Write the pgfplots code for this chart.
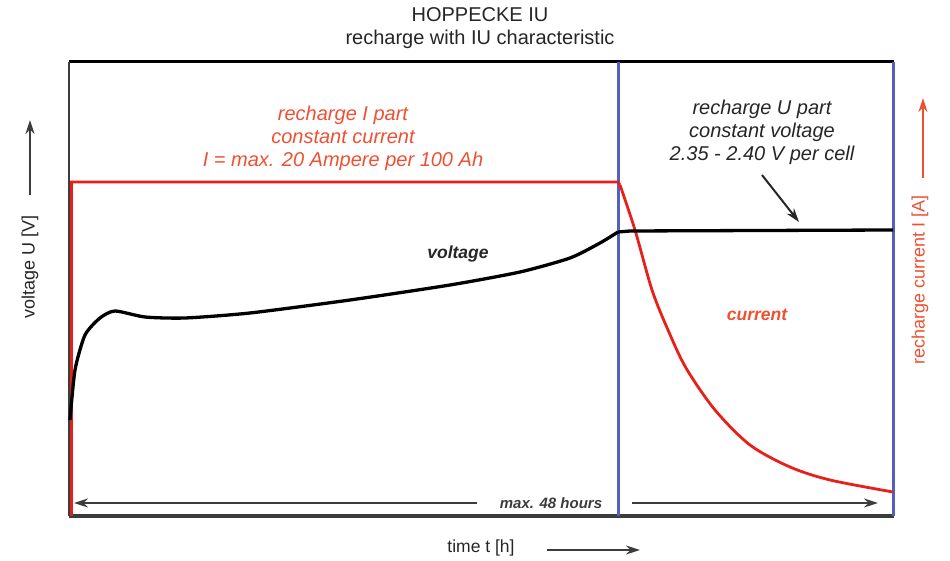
\documentclass[border=0pt]{standalone}
\usepackage{pgfplots}
\pgfplotsset{compat=1.18}
\usepackage{fontspec}
\setmainfont{Liberation Sans}
\usetikzlibrary{arrows.meta}
\definecolor{cred}{RGB}{232,32,26}
\definecolor{tred}{RGB}{238,80,50}
\definecolor{cblue}{RGB}{85,95,190}
\definecolor{cgrey}{RGB}{60,60,60}
\begin{document}
\begin{tikzpicture}
\useasboundingbox (-70pt,-45pt) rectangle (880pt,516pt);
\begin{axis}[at={(0pt,0pt)},anchor=south west,scale only axis,
  width=823pt,height=454pt,xmin=0,xmax=823,ymin=0,ymax=454,
  axis lines=none,ticks=none,clip=false]
% frame
\addplot[draw=black,line width=3pt] coordinates {(-1,454)(824,454)};
\addplot[draw=cgrey,line width=3.5pt] coordinates {(-1,0)(824,0)};
\addplot[draw=cgrey,line width=2pt] coordinates {(-1,0)(-1,454)};
\addplot[draw=cblue,line width=3pt] coordinates {(823,0)(823,454)};
\addplot[draw=cblue,line width=3pt] coordinates {(548,0)(548,454)};
% current
\addplot[draw=cred,line width=2.8pt] coordinates {(1.5,0)(1.5,334)(548,334)(550,331)};
\addplot[draw=cred,line width=2.8pt,smooth] coordinates {(550,331)(565,286)(582,226)(598,186)(616,148)(645,106)(680,71)(720,49)(760,36)(823,24)};
% voltage
\addplot[draw=black,line width=3.3pt,smooth,tension=0.4] coordinates {(0,96)(5,146)(15,181)(30,198)(45,205)(75,199)(115,198)(180,203)(280,216)(380,231)(450,244)(500,258)(530,273)(548,284)};
\addplot[draw=black,line width=3.3pt] coordinates {(548,284)(560,285)(823,286)};
% bottom arrows
\draw[-{Stealth[length=14pt,width=9pt]},line width=2pt,cgrey] (axis cs:407,13) -- (axis cs:4,13);
\draw[-{Stealth[length=14pt,width=9pt]},line width=2pt,cgrey] (axis cs:562,13) -- (axis cs:808,13);
\node[font=\fontsize{15}{18}\selectfont\bfseries\itshape,text=cgrey] at (axis cs:481,13) {max. 48 hours};
% annotations
\node[align=center,text=tred,font=\fontsize{20}{23}\selectfont\itshape] at (axis cs:273,378) {recharge I part\\constant current\\I = max. 20 Ampere per 100 Ah};
\node[align=center,text=black!85,font=\fontsize{20}{23}\selectfont\itshape] at (axis cs:692,384) {recharge U part\\constant voltage\\2.35 - 2.40 V per cell};
\draw[-{Stealth[length=14pt,width=9pt]},line width=2pt,black!85] (axis cs:692,341) -- (axis cs:729,294);
\node[font=\fontsize{17.5}{20}\selectfont\bfseries\itshape,text=black!85] at (axis cs:388,262) {voltage};
\node[font=\fontsize{17.5}{20}\selectfont\bfseries\itshape,text=tred] at (axis cs:687,201) {current};
% title
\node[align=center,font=\fontsize{20}{23}\selectfont,text=black!85] at (axis cs:410,488) {HOPPECKE IU\\recharge with IU characteristic};
% axis labels
\node[rotate=90,font=\fontsize{18}{20}\selectfont,text=black!85] at (axis cs:-40,249) {voltage U [V]};
\draw[-{Stealth[length=14pt,width=9pt]},line width=2pt,cgrey] (axis cs:-40,321) -- (axis cs:-40,396);
\node[rotate=90,font=\fontsize{18}{20}\selectfont,text=tred] at (axis cs:850,236) {recharge current I [A]};
\draw[-{Stealth[length=14pt,width=9pt]},line width=2pt,tred] (axis cs:853,338) -- (axis cs:853,418);
\node[font=\fontsize{17.5}{20}\selectfont,text=black!85] at (axis cs:411,-32) {time t [h]};
\draw[-{Stealth[length=14pt,width=9pt]},line width=2pt,cgrey] (axis cs:477,-34) -- (axis cs:570,-34);
\end{axis}
\end{tikzpicture}
\end{document}
